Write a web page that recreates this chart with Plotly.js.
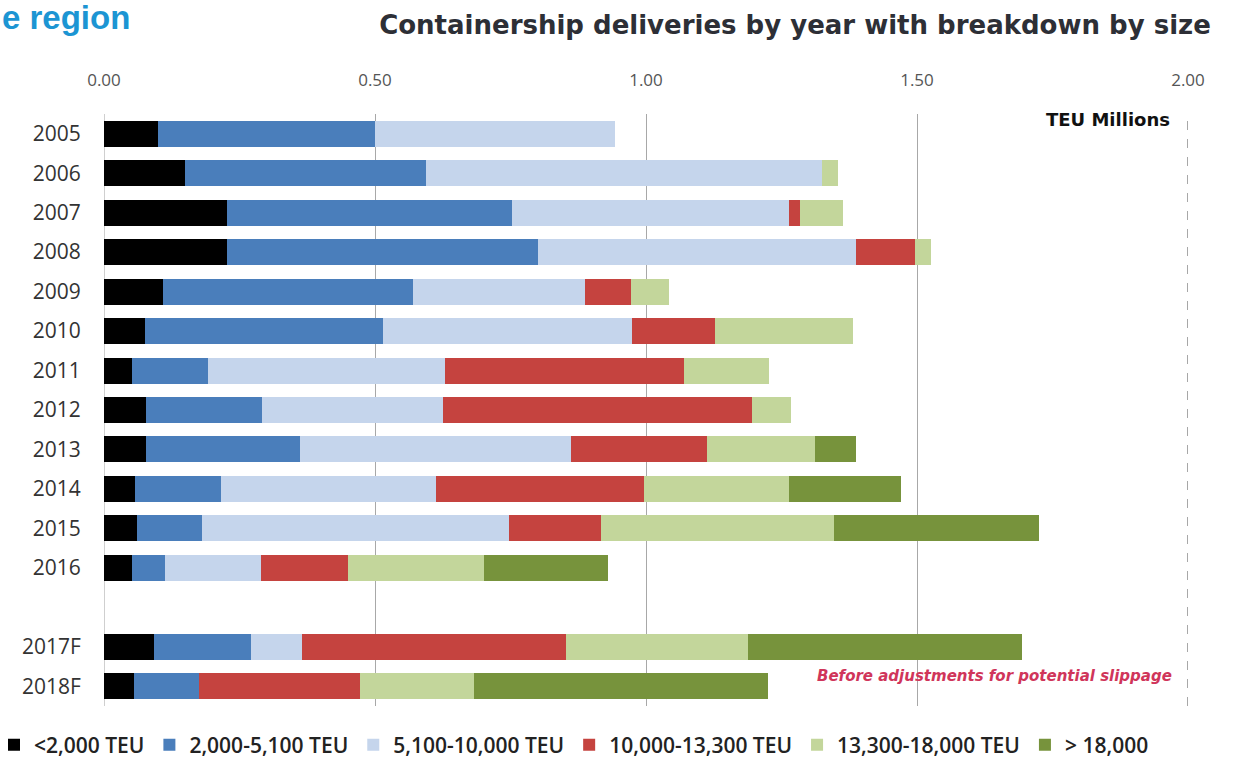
<!DOCTYPE html>
<html>
<head>
<meta charset="utf-8">
<script src="https://cdn.plot.ly/plotly-3.0.1.min.js"></script>
<style>
html,body{margin:0;padding:0;background:#fff;}
#chart{width:1239px;height:758px;}
</style>
</head>
<body>
<div id="chart"></div>
<script>
// Categories (years); a blank slot separates actuals from forecasts
const years = ['2005','2006','2007','2008','2009','2010','2011','2012','2013','2014','2015','2016','2017F','2018F'];
const firstForecast = '2017F';

// Series names (TEU size bands)
const seriesNames = ['<2,000 TEU','2,000-5,100 TEU','5,100-10,000 TEU','10,000-13,300 TEU','13,300-18,000 TEU','> 18,000'];

// Deliveries, TEU millions
const lt2000     = [0.100,0.150,0.227,0.227,0.109,0.076,0.052,0.078,0.077,0.057,0.061,0.051,0.092,0.055];
const s2000_5100 = [0.400,0.445,0.526,0.574,0.461,0.439,0.140,0.213,0.285,0.159,0.119,0.062,0.179,0.121];
const s5100_10k  = [0.443,0.730,0.510,0.586,0.317,0.459,0.437,0.334,0.500,0.397,0.567,0.177,0.094,0.000];
const s10k_13300 = [0.000,0.000,0.022,0.110,0.085,0.154,0.442,0.571,0.251,0.383,0.170,0.161,0.487,0.296];
const s13300_18k = [0.000,0.030,0.078,0.029,0.071,0.254,0.156,0.072,0.199,0.267,0.429,0.250,0.336,0.211];
const gt18k      = [0.000,0.000,0.000,0.000,0.000,0.000,0.000,0.000,0.075,0.207,0.379,0.228,0.505,0.543];

const xTicks = [0, 0.5, 1.0, 1.5, 2.0];

const colors = ['#000000','#4a7ebb','#c5d5ec','#c5433f','#c3d69b','#77933c'];
const seriesValues = [lt2000, s2000_5100, s5100_10k, s10k_13300, s13300_18k, gt18k];

// row index with a one-slot gap before the forecasts
const gapAt = years.indexOf(firstForecast);
const rowPos = years.map((y, i) => i >= gapAt ? i + 1 : i);
const nRows = years.length + 1;

const traces = seriesValues.map((vals, k) => ({
  type: 'bar',
  orientation: 'h',
  name: seriesNames[k],
  y: rowPos,
  x: vals,
  marker: {color: colors[k], line: {width: 0}},
  hoverinfo: 'x+name'
}));

const tickFont = {family: 'Open Sans, sans-serif', size: 21, color: '#333333'};

const layout = {
  width: 1239,
  height: 758,
  paper_bgcolor: '#ffffff',
  plot_bgcolor: '#ffffff',
  barmode: 'stack',
  bargap: 0.34,
  margin: {l: 104, r: 51, t: 114, b: 52, pad: 0, autoexpand: false},
  showlegend: true,
  title: {
    text: 'Containership deliveries by year with breakdown by size',
    font: {family: 'DejaVu Sans, sans-serif', size: 26, color: '#2d2f36', weight: 'bold'},
    x: 795 / 1239, xref: 'container', xanchor: 'center',
    y: 1 - 25 / 758, yref: 'container', yanchor: 'middle'
  },
  xaxis: {
    side: 'top',
    range: [xTicks[0], xTicks[xTicks.length - 1]],
    tickvals: xTicks,
    tickformat: '.2f',
    tickfont: {family: 'Open Sans, sans-serif', size: 17, color: '#555555'},
    ticks: 'outside', ticklen: 20, tickcolor: 'rgba(0,0,0,0)',
    showgrid: true, gridcolor: '#a8a8a8', gridwidth: 1,
    zeroline: true, zerolinecolor: '#cfcfcf', zerolinewidth: 1,
    showline: false,
    automargin: false,
    fixedrange: true
  },
  yaxis: {
    range: [nRows - 0.5, -0.5],
    tickvals: rowPos,
    ticktext: years,
    tickfont: tickFont,
    ticks: 'outside', ticklen: 18, tickcolor: 'rgba(0,0,0,0)',
    showgrid: false, zeroline: false,
    showline: true, mirror: true, linecolor: 'rgba(0,0,0,0)',
    automargin: false,
    fixedrange: true
  },
  legend: {
    orientation: 'h',
    x: -110 / 1084, xanchor: 'left',
    y: -0.066, yanchor: 'middle',
    font: {family: 'Open Sans, sans-serif', size: 21, color: '#222222', weight: 600},
    itemwidth: 30,
    traceorder: 'normal',
    bgcolor: 'rgba(0,0,0,0)'
  },
  shapes: [{
    type: 'line', xref: 'x', yref: 'paper',
    x0: xTicks[xTicks.length - 1], x1: xTicks[xTicks.length - 1], y0: 0, y1: 1,
    line: {color: '#6e6e6e', width: 1.2, dash: 'dash'}
  }],
  annotations: [
    {
      text: 'e region', xref: 'paper', yref: 'paper',
      x: -104 / 1084, xanchor: 'left', y: 1 + (114 - 18) / 592, yanchor: 'middle',
      showarrow: false,
      font: {family: 'Liberation Sans, Arial, sans-serif', size: 33, color: '#1c95d3', weight: 'bold'}
    },
    {
      text: 'TEU Millions', xref: 'x', yref: 'paper',
      x: 1.97, xanchor: 'right', y: 1 - (120 - 114) / 592, yanchor: 'middle',
      showarrow: false,
      font: {family: 'DejaVu Sans, sans-serif', size: 18, color: '#111111', weight: 'bold'}
    },
    {
      text: 'ALPHALINER', xref: 'x', yref: 'paper',
      x: 2.005, xanchor: 'right', y: 1 - (306 - 114) / 592, yanchor: 'middle',
      showarrow: false,
      font: {family: 'DejaVu Sans, sans-serif', size: 19, color: '#ee7d3c', weight: 'bold'}
    },
    {
      text: '<i>Before adjustments for potential slippage</i>', xref: 'x', yref: 'paper',
      x: 1.975, xanchor: 'right', y: 1 - (676 - 114) / 592, yanchor: 'middle',
      showarrow: false,
      font: {family: 'DejaVu Sans, sans-serif', size: 15, color: '#d0355a', weight: 'bold'}
    }
  ]
};

Plotly.newPlot('chart', traces, layout, {displayModeBar: false, responsive: false});
</script>
</body>
</html>
